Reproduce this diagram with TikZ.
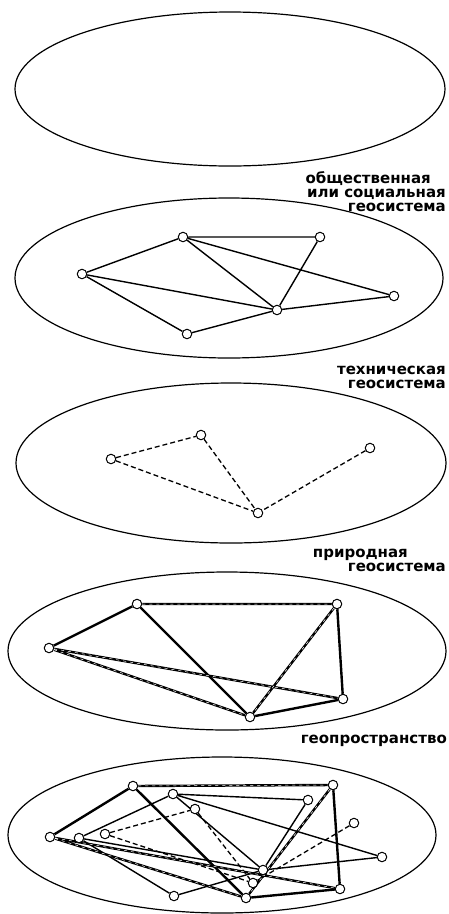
\documentclass[tikz,border=0pt]{standalone}
\usepackage{fontspec}
\newfontfamily\geofont{DejaVu Sans}
\usetikzlibrary{backgrounds}

\begin{document}
\begin{tikzpicture}[
  x=1pt, y=-1pt,
  sphere/.style={line width=1.2pt},
  vert/.style={circle, draw, fill=white, line width=1pt, inner sep=0pt, minimum size=9.5pt},
  soc/.style={line width=1.4pt},
  tech/.style={line width=1.3pt, dash pattern=on 5pt off 3pt},
  nat/.style={line width=2.4pt},
  natd/.style={line width=2.4pt, postaction={draw, white, line width=0.5pt, dash pattern=on 3pt off 4pt}},
  lbl/.style={font=\geofont\bfseries\fontsize{15}{14}\selectfont, inner sep=0pt}
]
  \useasboundingbox (0,0) rectangle (449,914);

  \draw[sphere] (230,89) ellipse [x radius=215pt, y radius=77pt];
  \draw[sphere] (229,278) ellipse [x radius=214pt, y radius=80pt];
  \draw[sphere] (231,463) ellipse [x radius=215pt, y radius=80pt];
  \draw[sphere] (227,651) ellipse [x radius=219pt, y radius=79pt];
  \draw[sphere] (222,835) ellipse [x radius=214pt, y radius=78pt];

  \node[lbl, anchor=north east, align=right] (soclbl) at (446,171) {общественная\hspace*{15pt}\\или социальная\\геосистема};
  \node[lbl, anchor=north east, align=right] (techlbl) at (446,366) {техническая\\геосистема};
  \node[lbl, anchor=north east, align=right] (natlbl) at (446,549) {природная\hspace*{38pt}\\геосистема};
  \node[lbl, anchor=north east] (geolbl) at (447,735) {геопространство};

  % social
  \node[vert] (sa) at (183,237) {};
  \node[vert] (sb) at (320,237) {};
  \node[vert] (sc) at (82,274) {};
  \node[vert] (sd) at (394,296) {};
  \node[vert] (se) at (277,310) {};
  \node[vert] (sf) at (187,334) {};

  % technical
  \node[vert] (ta) at (111,459) {};
  \node[vert] (tb) at (201,435) {};
  \node[vert] (tc) at (370,448) {};
  \node[vert] (td) at (258,513) {};

  % natural
  \node[vert] (na) at (137,604) {};
  \node[vert] (nb) at (337,604) {};
  \node[vert] (nc) at (49,648) {};
  \node[vert] (nd) at (343,699) {};
  \node[vert] (ne) at (250,717) {};

  % geospace
  \node[vert] (gna) at (133,786) {};
  \node[vert] (gnb) at (333,785) {};
  \node[vert] (gnc) at (50,837) {};
  \node[vert] (gnd) at (340,889) {};
  \node[vert] (gne) at (246,898) {};
  \node[vert] (gsa) at (173,794) {};
  \node[vert] (gsb) at (308,800) {};
  \node[vert] (gsc) at (79,838) {};
  \node[vert] (gsd) at (382,857) {};
  \node[vert] (gse) at (263,870) {};
  \node[vert] (gsf) at (174,896) {};
  \node[vert] (gta) at (105,834) {};
  \node[vert] (gtb) at (195,809) {};
  \node[vert] (gtc) at (354,823) {};
  \node[vert] (gtd) at (253,883) {};

  \begin{scope}[on background layer]
    \draw[soc] (sa) -- (sb) (sa) -- (sc) (sa) -- (se) (sa) -- (sd) (sb) -- (se)
      (sc) -- (se) (sc) -- (sf) (sf) -- (se) (se) -- (sd);
    \draw[tech] (ta) -- (tb) (ta) -- (td) (tb) -- (td) (tc) -- (td);
    \draw[nat] (na) -- (nc) (na) -- (ne) (nb) -- (nd) (ne) -- (nd);
    \draw[natd] (na) -- (nb) (nb) -- (ne) (nc) -- (nd) (nc) -- (ne);

    \draw[soc] (gsa) -- (gsb) (gsa) -- (gsc) (gsa) -- (gse) (gsa) -- (gsd) (gsb) -- (gse)
      (gsc) -- (gse) (gsc) -- (gsf) (gsf) -- (gse) (gse) -- (gsd);
    \draw[tech] (gta) -- (gtb) (gta) -- (gtd) (gtb) -- (gtd) (gtc) -- (gtd);
    \draw[nat] (gna) -- (gnc) (gna) -- (gne) (gnb) -- (gnd) (gne) -- (gnd);
    \draw[natd] (gna) -- (gnb) (gnb) -- (gne) (gnc) -- (gnd) (gnc) -- (gne);
  \end{scope}
\end{tikzpicture}
\end{document}
